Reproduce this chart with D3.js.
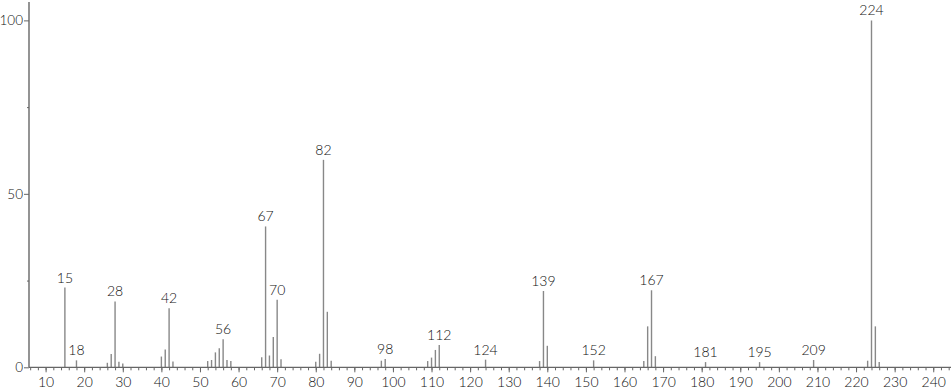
<!DOCTYPE html>
<html><head><meta charset="utf-8">
<script src="https://cdn.jsdelivr.net/npm/d3@7"></script>
<style>body{margin:0;background:#fff}svg{display:block}text{font-family:"Lato","Open Sans",sans-serif;font-weight:300;fill:#111}</style>
</head><body><svg id="c" width="951" height="389"></svg>
<script>
const mz = [15,18,26,27,28,29,30,40,41,42,43,52,53,54,55,56,57,58,66,67,68,69,70,71,80,81,82,83,84,97,98,109,110,111,112,124,138,139,140,152,165,166,167,168,181,195,209,223,224,225,226];
const intensity = [23,2,1.3,3.8,19,1.6,1.1,3.1,5.1,17,1.7,1.8,2.1,4.3,5.5,8.1,2.1,1.8,2.9,40.6,3.4,8.7,19.5,2.3,1.6,3.9,59.8,16,1.9,1.9,2.4,1.8,2.8,5,6.4,2.2,1.8,22,6.2,2,1.8,11.8,22.2,3.2,1.5,1.5,2.1,1.9,100,11.8,1.5];
const labeled = [15,18,28,42,56,67,70,82,98,112,124,139,152,167,181,195,209,224];
const xTicks = d3.range(10, 241, 10);
const yTicks = [0,50,100];

const svg = d3.select("#c");
const x = d3.scaleLinear().domain([5.7,244.6]).range([29,951]);
const y = d3.scaleLinear().domain([0,105.3]).range([367.3,2]);
const axisCol = "#666";

// peaks
svg.append("g").selectAll("line").data(mz).join("line")
  .attr("x1", d=>x(d)).attr("x2", d=>x(d))
  .attr("y1", y(0)).attr("y2", (d,i)=>y(intensity[i]))
  .attr("stroke", "#888").attr("stroke-width", 1.4);

// x axis
const gx = svg.append("g").attr("transform", `translate(0,${y(0)})`);
gx.call(d3.axisBottom(x).tickValues(d3.range(6,245,2)).tickSize(3).tickFormat(""))
  .call(g=>g.select(".domain").remove())
  .call(g=>g.selectAll("line").attr("stroke", axisCol));
gx.append("g").call(d3.axisBottom(x).tickValues(xTicks).tickSize(5).tickPadding(5).tickFormat(d3.format("d")))
  .call(g=>g.select(".domain").remove())
  .call(g=>g.selectAll("line").attr("stroke", axisCol))
  .call(g=>g.selectAll("text").attr("font-size", 14).attr("fill","#111").attr("font-family",null));
gx.append("line").attr("x1", 29).attr("x2", 951).attr("stroke", axisCol).attr("stroke-width",1.2);

// y axis
const gy = svg.append("g").attr("transform", `translate(29,0)`);
gy.call(d3.axisLeft(y).tickValues([25,75]).tickSize(2).tickFormat(""))
  .call(g=>g.select(".domain").remove())
  .call(g=>g.selectAll("line").attr("stroke", axisCol));
gy.append("g").call(d3.axisLeft(y).tickValues(yTicks).tickSize(5).tickPadding(1).tickFormat(d3.format("d")))
  .call(g=>g.select(".domain").remove())
  .call(g=>g.selectAll("line").attr("stroke", axisCol))
  .call(g=>g.selectAll("text").attr("font-size", 13.5).attr("fill","#111").attr("font-family",null));
gy.append("line").attr("y1", 2).attr("y2", y(0)).attr("stroke", axisCol).attr("stroke-width",1.4);

// peak labels
svg.append("g").selectAll("text").data(labeled).join("text")
  .attr("x", d=>x(d)).attr("y", d=>y(intensity[mz.indexOf(d)])-5)
  .attr("text-anchor","middle").attr("font-size",14)
  .text(d=>d);
</script></body></html>
